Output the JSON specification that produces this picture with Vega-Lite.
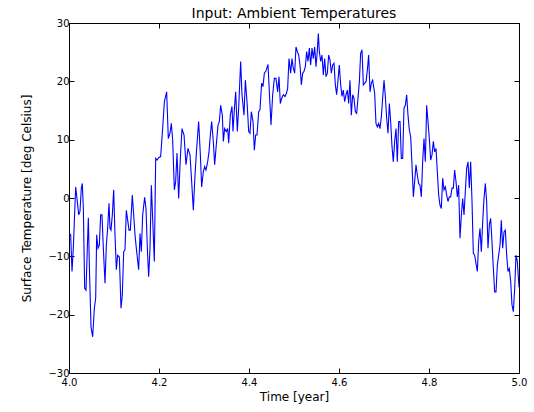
{
  "$schema": "https://vega.github.io/schema/vega-lite/v6.json",
  "width": 450,
  "height": 350,
  "autosize": "none",
  "padding": {"left": 69, "top": 23, "right": 15, "bottom": 39},
  "config": {
    "font": "DejaVu Sans",
    "view": {"stroke": "#000000", "strokeWidth": 1},
    "axis": {
      "grid": false,
      "domainColor": "#000000",
      "tickColor": "#000000",
      "labelColor": "#000000",
      "titleColor": "#000000",
      "labelFont": "DejaVu Sans",
      "titleFont": "DejaVu Sans",
      "labelFontSize": 10,
      "titleFontSize": 12,
      "titleFontWeight": "normal",
      "tickSize": -5,
      "labelPadding": 5,
      "labelFlush": false,
      "labelOverlap": false
    }
  },
  "title": {"text": "Input: Ambient Temperatures", "fontSize": 14, "fontWeight": "normal", "font": "DejaVu Sans", "color": "#000000", "offset": -3},
  "data": {"values": [
    {"t": 4.0, "v": -6.0},
    {"t": 4.0037, "v": -6.3}, {"t": 4.0067, "v": -12.6}, {"t": 4.0096, "v": -8.6}, {"t": 4.0148, "v": 1.9},
    {"t": 4.0185, "v": -0.6}, {"t": 4.0215, "v": -2.9}, {"t": 4.0244, "v": -2.3}, {"t": 4.0274, "v": 1.7},
    {"t": 4.0296, "v": 2.5}, {"t": 4.0319, "v": -1.8}, {"t": 4.0348, "v": -15.5}, {"t": 4.0378, "v": -15.8},
    {"t": 4.0407, "v": -8.6}, {"t": 4.043, "v": -3.4}, {"t": 4.0452, "v": -11.5}, {"t": 4.0489, "v": -22.1},
    {"t": 4.0526, "v": -23.8}, {"t": 4.0563, "v": -18.9}, {"t": 4.0593, "v": -17.2}, {"t": 4.0615, "v": -6.3},
    {"t": 4.0644, "v": -8.6}, {"t": 4.0674, "v": -8.1}, {"t": 4.0704, "v": -2.9}, {"t": 4.0733, "v": -2.9},
    {"t": 4.0763, "v": -8.6}, {"t": 4.08, "v": -14.6}, {"t": 4.083, "v": -8.1}, {"t": 4.0859, "v": -5.2},
    {"t": 4.0889, "v": -0.9}, {"t": 4.0911, "v": -5.2}, {"t": 4.0933, "v": -5.5}, {"t": 4.0963, "v": -2.9},
    {"t": 4.0993, "v": 1.4}, {"t": 4.1022, "v": -6.3}, {"t": 4.1052, "v": -12.3}, {"t": 4.1081, "v": -9.8},
    {"t": 4.1119, "v": -10.1}, {"t": 4.1156, "v": -18.9}, {"t": 4.1185, "v": -16.6}, {"t": 4.1215, "v": -9.2},
    {"t": 4.1244, "v": -8.9}, {"t": 4.1274, "v": -2.1}, {"t": 4.1304, "v": -3.8}, {"t": 4.1333, "v": -5.5},
    {"t": 4.1363, "v": -5.5}, {"t": 4.1407, "v": 0.5}, {"t": 4.1437, "v": -2.9}, {"t": 4.1467, "v": -6.3},
    {"t": 4.1496, "v": -8.6}, {"t": 4.1548, "v": -12.3}, {"t": 4.1578, "v": -6.1}, {"t": 4.1607, "v": -9.2},
    {"t": 4.1637, "v": -2.9}, {"t": 4.1681, "v": 0.1}, {"t": 4.1711, "v": -1.8}, {"t": 4.1741, "v": -8.6},
    {"t": 4.177, "v": -13.5}, {"t": 4.18, "v": -8.6}, {"t": 4.183, "v": 2.2}, {"t": 4.1859, "v": -3.5},
    {"t": 4.1896, "v": -10.9}, {"t": 4.1926, "v": 6.8}, {"t": 4.1956, "v": 6.5}, {"t": 4.1993, "v": 6.9},
    {"t": 4.2037, "v": 7.1}, {"t": 4.2081, "v": 11.9}, {"t": 4.2119, "v": 16.5}, {"t": 4.217, "v": 18.2},
    {"t": 4.2207, "v": 10.2}, {"t": 4.2244, "v": 11.1}, {"t": 4.2274, "v": 12.8}, {"t": 4.2304, "v": 9.9},
    {"t": 4.2341, "v": 1.4}, {"t": 4.237, "v": 2.8}, {"t": 4.24, "v": 7.7}, {"t": 4.2437, "v": -0.1},
    {"t": 4.2474, "v": 6.8}, {"t": 4.2511, "v": 11.9}, {"t": 4.2556, "v": 10.8}, {"t": 4.26, "v": 5.7},
    {"t": 4.2644, "v": 8.5}, {"t": 4.2689, "v": 7.4}, {"t": 4.2726, "v": 2.8}, {"t": 4.2763, "v": -2.1},
    {"t": 4.28, "v": 3.9}, {"t": 4.2837, "v": 8.5}, {"t": 4.2881, "v": 13.1}, {"t": 4.2919, "v": 7.4},
    {"t": 4.2948, "v": 1.9}, {"t": 4.2985, "v": 4.5}, {"t": 4.3015, "v": 5.4}, {"t": 4.3044, "v": 4.8},
    {"t": 4.3081, "v": 6.2}, {"t": 4.3111, "v": 7.9}, {"t": 4.3141, "v": 10.8}, {"t": 4.317, "v": 13.1},
    {"t": 4.3207, "v": 9.7}, {"t": 4.3237, "v": 5.7}, {"t": 4.3267, "v": 8.5}, {"t": 4.3311, "v": 12.5},
    {"t": 4.3341, "v": 13.1}, {"t": 4.337, "v": 15.9}, {"t": 4.3407, "v": 14.2}, {"t": 4.343, "v": 9.7},
    {"t": 4.3459, "v": 11.9}, {"t": 4.3496, "v": 11.4}, {"t": 4.3526, "v": 11.9}, {"t": 4.3548, "v": 9.4},
    {"t": 4.3585, "v": 14.2}, {"t": 4.3622, "v": 15.7}, {"t": 4.3644, "v": 11.4}, {"t": 4.3674, "v": 15.1},
    {"t": 4.3704, "v": 18.2}, {"t": 4.3741, "v": 11.4}, {"t": 4.377, "v": 15.4}, {"t": 4.3815, "v": 23.4},
    {"t": 4.3844, "v": 17.7}, {"t": 4.3889, "v": 14.2}, {"t": 4.3919, "v": 20.2}, {"t": 4.3956, "v": 16.5},
    {"t": 4.3993, "v": 11.4}, {"t": 4.4022, "v": 11.1}, {"t": 4.4052, "v": 14.8}, {"t": 4.4089, "v": 13.1},
    {"t": 4.4119, "v": 8.2}, {"t": 4.4148, "v": 10.8}, {"t": 4.4178, "v": 10.8}, {"t": 4.4215, "v": 14.8},
    {"t": 4.4244, "v": 15.1}, {"t": 4.4281, "v": 19.7}, {"t": 4.4311, "v": 19.1}, {"t": 4.4341, "v": 21.4},
    {"t": 4.4378, "v": 21.8}, {"t": 4.4422, "v": 22.9}, {"t": 4.4459, "v": 17.1}, {"t": 4.4489, "v": 12.5},
    {"t": 4.4526, "v": 17.7}, {"t": 4.4563, "v": 20.5}, {"t": 4.46, "v": 20.5}, {"t": 4.4637, "v": 18.2},
    {"t": 4.4667, "v": 20.8}, {"t": 4.4696, "v": 16.2}, {"t": 4.4726, "v": 17.1}, {"t": 4.4763, "v": 17.7},
    {"t": 4.48, "v": 17.4}, {"t": 4.483, "v": 17.9}, {"t": 4.4859, "v": 18.8}, {"t": 4.4889, "v": 23.9},
    {"t": 4.4926, "v": 21.4}, {"t": 4.4956, "v": 23.9}, {"t": 4.4985, "v": 22.2}, {"t": 4.5015, "v": 21.4},
    {"t": 4.5044, "v": 25.9}, {"t": 4.5074, "v": 25.1}, {"t": 4.5104, "v": 24.5}, {"t": 4.5133, "v": 22.8},
    {"t": 4.5163, "v": 19.4}, {"t": 4.5193, "v": 21.4}, {"t": 4.5222, "v": 21.7}, {"t": 4.5252, "v": 22.5},
    {"t": 4.5281, "v": 25.1}, {"t": 4.5311, "v": 23.4}, {"t": 4.5341, "v": 25.7}, {"t": 4.537, "v": 22.8},
    {"t": 4.54, "v": 25.7}, {"t": 4.543, "v": 23.9}, {"t": 4.5459, "v": 25.9}, {"t": 4.5489, "v": 22.5},
    {"t": 4.5519, "v": 25.4}, {"t": 4.5541, "v": 28.2}, {"t": 4.5563, "v": 25.1}, {"t": 4.5593, "v": 23.4},
    {"t": 4.5622, "v": 24.5}, {"t": 4.5652, "v": 21.1}, {"t": 4.5681, "v": 23.9}, {"t": 4.5711, "v": 20.8},
    {"t": 4.5741, "v": 21.4}, {"t": 4.577, "v": 24.5}, {"t": 4.58, "v": 23.7}, {"t": 4.583, "v": 21.4},
    {"t": 4.5859, "v": 22.8}, {"t": 4.5889, "v": 23.1}, {"t": 4.5919, "v": 19.4}, {"t": 4.5948, "v": 17.7},
    {"t": 4.5978, "v": 20.2}, {"t": 4.6007, "v": 22.8}, {"t": 4.6037, "v": 19.4}, {"t": 4.6067, "v": 17.4},
    {"t": 4.6096, "v": 18.5}, {"t": 4.6126, "v": 16.5}, {"t": 4.6156, "v": 17.7}, {"t": 4.6185, "v": 18.5},
    {"t": 4.6215, "v": 16.2}, {"t": 4.6244, "v": 20.2}, {"t": 4.6274, "v": 14.2}, {"t": 4.6304, "v": 17.7},
    {"t": 4.6333, "v": 17.1}, {"t": 4.6363, "v": 14.8}, {"t": 4.6393, "v": 14.5}, {"t": 4.6422, "v": 17.1},
    {"t": 4.6452, "v": 19.9}, {"t": 4.6481, "v": 24.8}, {"t": 4.6511, "v": 25.4}, {"t": 4.6541, "v": 19.4},
    {"t": 4.657, "v": 19.7}, {"t": 4.66, "v": 19.9}, {"t": 4.663, "v": 21.9}, {"t": 4.6659, "v": 24.5},
    {"t": 4.6689, "v": 18.2}, {"t": 4.6719, "v": 19.7}, {"t": 4.6748, "v": 20.2}, {"t": 4.6793, "v": 17.9},
    {"t": 4.6822, "v": 12.8}, {"t": 4.6852, "v": 12.2}, {"t": 4.6881, "v": 12.8}, {"t": 4.6911, "v": 11.9},
    {"t": 4.6941, "v": 13.9}, {"t": 4.697, "v": 17.1}, {"t": 4.7, "v": 20.2}, {"t": 4.703, "v": 17.4},
    {"t": 4.7059, "v": 13.7}, {"t": 4.7089, "v": 11.1}, {"t": 4.7119, "v": 16.2}, {"t": 4.7148, "v": 13.1},
    {"t": 4.7178, "v": 8.8}, {"t": 4.7207, "v": 6.2}, {"t": 4.7237, "v": 9.7}, {"t": 4.7267, "v": 11.9},
    {"t": 4.7296, "v": 6.2}, {"t": 4.7326, "v": 13.1}, {"t": 4.7356, "v": 13.1}, {"t": 4.7385, "v": 6.8},
    {"t": 4.7415, "v": 6.8}, {"t": 4.7444, "v": 15.4}, {"t": 4.7474, "v": 15.9}, {"t": 4.7504, "v": 17.7},
    {"t": 4.7533, "v": 14.2}, {"t": 4.7563, "v": 11.7}, {"t": 4.7593, "v": 10.5}, {"t": 4.7622, "v": 5.7},
    {"t": 4.7652, "v": 0.2}, {"t": 4.7681, "v": 2.8}, {"t": 4.7711, "v": 5.7}, {"t": 4.7741, "v": 3.9},
    {"t": 4.777, "v": 2.5}, {"t": 4.78, "v": 2.2}, {"t": 4.783, "v": 0.2}, {"t": 4.7859, "v": 6.2},
    {"t": 4.7889, "v": 10.2}, {"t": 4.7919, "v": 6.2}, {"t": 4.7948, "v": 15.9}, {"t": 4.7978, "v": 13.1},
    {"t": 4.8007, "v": 10.2}, {"t": 4.8037, "v": 6.5}, {"t": 4.8067, "v": 7.4}, {"t": 4.8096, "v": 9.7},
    {"t": 4.8126, "v": 7.9}, {"t": 4.8156, "v": 8.5}, {"t": 4.8185, "v": 4.5}, {"t": 4.8215, "v": 0.5},
    {"t": 4.8244, "v": -1.2}, {"t": 4.8274, "v": -1.8}, {"t": 4.8304, "v": 3.4}, {"t": 4.8333, "v": 1.4},
    {"t": 4.8363, "v": 1.9}, {"t": 4.8393, "v": 0.5}, {"t": 4.8422, "v": -0.6}, {"t": 4.8452, "v": 0.2},
    {"t": 4.8481, "v": 0.2}, {"t": 4.8511, "v": 1.7}, {"t": 4.8541, "v": 1.7}, {"t": 4.857, "v": 4.8},
    {"t": 4.86, "v": 2.8}, {"t": 4.863, "v": 0.2}, {"t": 4.8659, "v": 2.2}, {"t": 4.8689, "v": -6.9},
    {"t": 4.8719, "v": -2.9}, {"t": 4.8748, "v": -0.1}, {"t": 4.8778, "v": -2.9}, {"t": 4.8807, "v": 1.1},
    {"t": 4.8837, "v": 5.1}, {"t": 4.8867, "v": 6.2}, {"t": 4.8896, "v": 1.7}, {"t": 4.8926, "v": 6.2},
    {"t": 4.8956, "v": -0.6}, {"t": 4.8985, "v": -9.5}, {"t": 4.9015, "v": -9.8}, {"t": 4.9044, "v": -11.2},
    {"t": 4.9074, "v": -12.6}, {"t": 4.9104, "v": -7.5}, {"t": 4.9133, "v": -5.2}, {"t": 4.9163, "v": -9.2},
    {"t": 4.9193, "v": -4.1}, {"t": 4.9222, "v": -0.1}, {"t": 4.9252, "v": 2.5}, {"t": 4.9281, "v": -0.6},
    {"t": 4.9311, "v": -8.6}, {"t": 4.9341, "v": -4.6}, {"t": 4.937, "v": -3.5}, {"t": 4.94, "v": -7.5},
    {"t": 4.943, "v": -12.1}, {"t": 4.9459, "v": -16.1}, {"t": 4.9489, "v": -16.1}, {"t": 4.9519, "v": -11.5},
    {"t": 4.9548, "v": -9.8}, {"t": 4.9578, "v": -8.1}, {"t": 4.9607, "v": -3.8}, {"t": 4.9637, "v": -8.6},
    {"t": 4.9667, "v": -5.8}, {"t": 4.9696, "v": -5.5}, {"t": 4.9726, "v": -9.8}, {"t": 4.9756, "v": -12.6},
    {"t": 4.9785, "v": -12.1}, {"t": 4.9815, "v": -14.3}, {"t": 4.9844, "v": -18.3}, {"t": 4.9874, "v": -19.5},
    {"t": 4.9904, "v": -15.5}, {"t": 4.9933, "v": -9.8}, {"t": 4.9963, "v": -10.9}, {"t": 5.0, "v": -15.3}
  ]},
  "layer": [
    {
      "mark": {"type": "line", "color": "#0000ff", "strokeWidth": 1.1, "clip": true},
      "encoding": {
        "x": {"field": "t", "type": "quantitative", "scale": {"domain": [4.0, 5.0], "nice": false, "zero": false},
              "axis": {"orient": "bottom", "title": "Time [year]", "values": [4.0, 4.2, 4.4, 4.6, 4.8, 5.0], "format": ".1f", "titlePadding": 4, "labelPadding": 9}},
        "y": {"field": "v", "type": "quantitative", "scale": {"domain": [-30, 30], "nice": false, "zero": false},
              "axis": {"orient": "left", "title": "Surface Temperature [deg Celsius]", "values": [-30, -20, -10, 0, 10, 20, 30], "format": "d", "titlePadding": 14}}
      }
    },
    {
      "mark": {"type": "line", "opacity": 0},
      "encoding": {
        "x": {"field": "t", "type": "quantitative", "axis": {"orient": "top", "title": null, "labels": false, "values": [4.0, 4.2, 4.4, 4.6, 4.8, 5.0]}},
        "y": {"field": "v", "type": "quantitative", "axis": {"orient": "right", "title": null, "labels": false, "values": [-30, -20, -10, 0, 10, 20, 30]}}
      }
    }
  ],
  "resolve": {"axis": {"x": "independent", "y": "independent"}}
}
